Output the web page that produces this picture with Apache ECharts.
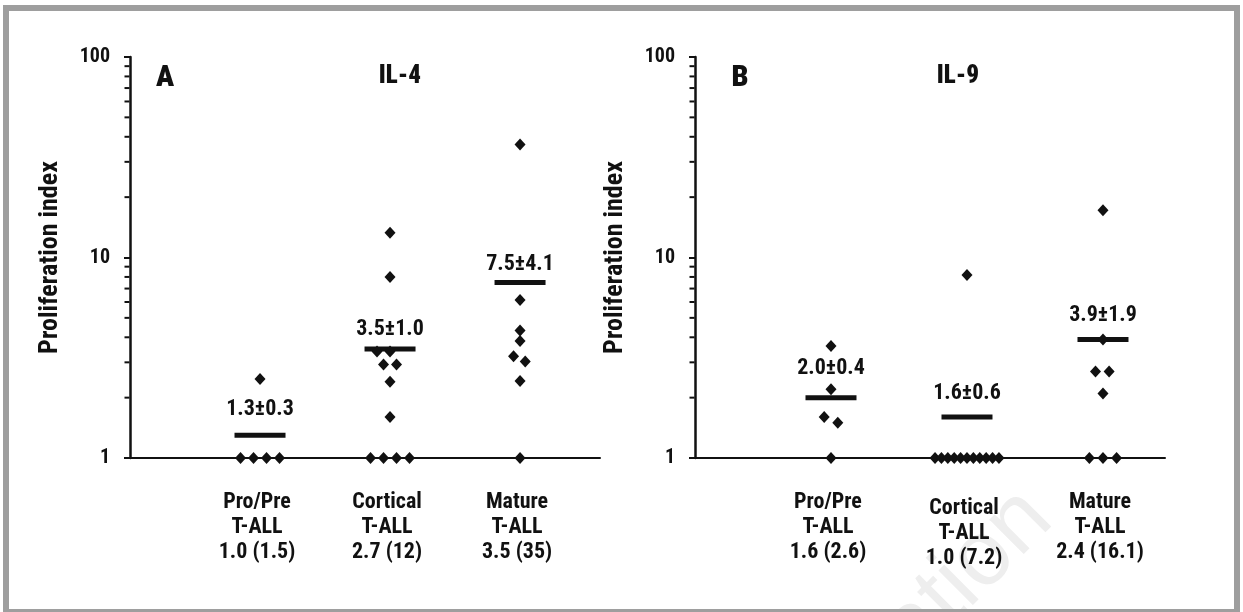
<!DOCTYPE html>
<html><head><meta charset="utf-8">
<script src="https://cdn.jsdelivr.net/npm/echarts@6/dist/echarts.min.js"></script>
<style>html,body{margin:0;padding:0;background:#fff}#c{width:1243px;height:612px}</style>
</head><body><div id="c"></div><script>
// ---- data ----
const categories = ['Pro/Pre', 'Cortical', 'Mature'];
const subtype = 'T-ALL';
const medianA = ['1.0 (1.5)', '2.7 (12)', '3.5 (35)'];
const medianB = ['1.6 (2.6)', '1.0 (7.2)', '2.4 (16.1)'];
const yTickValues = [1, 10, 100];
const minorTickValues = [2, 3, 4, 5, 6, 7, 8, 9, 20, 30, 40, 50, 60, 70, 80, 90];

// Panel A: IL-4
const il4ProPre = [2.48, 1, 1, 1, 1];
const il4ProPreJitter = [0, -0.15, -0.05, 0.05, 0.15];
const il4Cortical = [13.3, 8.0, 3.4, 3.4, 2.93, 2.93, 2.4, 1.6, 1, 1, 1, 1];
const il4CorticalJitter = [0, 0, -0.1, 0, -0.05, 0.05, 0, 0, -0.15, -0.05, 0.05, 0.15];
const il4Mature = [36.6, 6.14, 4.33, 3.83, 3.22, 3.03, 2.42, 1];
const il4MatureJitter = [0, 0, 0, 0, -0.05, 0.04, 0, 0];
const il4Mean = [1.3, 3.5, 7.5];
const il4MeanText = ['1.3±0.3', '3.5±1.0', '7.5±4.1'];

// Panel B: IL-9
const il9ProPre = [3.62, 2.2, 1.6, 1.5, 1];
const il9ProPreJitter = [0, 0, -0.05, 0.05, 0];
const il9Cortical = [8.19, 1, 1, 1, 1, 1, 1, 1, 1, 1, 1, 1];
const il9CorticalJitter = [0, -0.235, -0.188, -0.141, -0.094, -0.047, 0, 0.047, 0.094, 0.141, 0.188, 0.235];
const il9Mature = [17.2, 3.9, 2.7, 2.7, 2.1, 1, 1, 1];
const il9MatureJitter = [0, 0, -0.055, 0.045, 0, -0.1, 0, 0.1];
const il9Mean = [2.0, 1.6, 3.9];
const il9MeanText = ['2.0±0.4', '1.6±0.6', '3.9±1.9'];

// ---- styling ----
const FONT = "'Roboto Condensed','Liberation Sans',sans-serif";
const WEIGHT = 'bold';
const INK = '#111';

function points(groups) {
  const out = [];
  groups.forEach((g, i) => g[0].forEach((v, j) => out.push([i + 1 + g[1][j], v])));
  return out;
}
function catFormatter(medians, lowIdx) {
  return function (v) {
    const r = Math.round(v);
    if (Math.abs(v - r) > 1e-6 || r < 1 || r > 3) return '';
    const i = r - 1;
    const txt = categories[i] + '\n' + subtype + '\n' + medians[i];
    return i === lowIdx ? '{sp|\u200b}\n' + txt : txt;
  };
}
function xAxisCfg(grid, max, medians, lowIdx) {
  return {
    type: 'value', gridIndex: grid, min: 0, max: max, interval: 1,
    splitLine: { show: false }, axisTick: { show: false },
    axisLine: { show: true, onZero: false, lineStyle: { color: INK, width: 2 } },
    axisLabel: {
      formatter: catFormatter(medians, lowIdx), margin: 32, color: INK,
      fontFamily: FONT, fontWeight: WEIGHT, fontSize: 22, lineHeight: 25,
      padding: [0, 6, 0, 0],
      rich: { sp: { fontSize: 4, lineHeight: 6, height: 6 } },
      showMinLabel: false, showMaxLabel: false
    }
  };
}
function yAxisCfg(grid) {
  return {
    type: 'log', logBase: 10, gridIndex: grid, min: 1, max: 100,
    name: 'Proliferation index', nameLocation: 'middle', nameGap: 67,
    nameTextStyle: { fontFamily: FONT, fontWeight: WEIGHT, fontSize: 26, color: INK },
    splitLine: { show: false },
    axisLine: { show: true, lineStyle: { color: INK, width: 2.5 } },
    axisTick: { show: true, length: 6, lineStyle: { color: INK, width: 2 } },
    axisLabel: { margin: 20, color: INK, fontFamily: FONT, fontWeight: WEIGHT, fontSize: 20,
      formatter: v => (yTickValues.indexOf(Math.round(v)) >= 0 ? String(Math.round(v)) : '') }
  };
}
function dotSeries(idx, data) {
  return { type: 'scatter', xAxisIndex: idx, yAxisIndex: idx, data: data, symbol: 'diamond',
    symbolSize: [11, 12], itemStyle: { color: INK, opacity: 1 }, silent: true, z: 4 };
}
function meanSeries(idx, means, texts, gaps) {
  return { type: 'scatter', xAxisIndex: idx, yAxisIndex: idx, symbol: 'rect', symbolSize: [51, 5],
    itemStyle: { color: INK, opacity: 1 }, silent: true, z: 3,
    data: means.map((m, i) => ({ value: [i + 1, m], label: { distance: gaps[i] } })),
    label: { show: true, position: 'top', formatter: p => texts[p.dataIndex], color: INK, opacity: 1,
      fontFamily: FONT, fontWeight: WEIGHT, fontSize: 22, textBorderColor: '#fff', textBorderWidth: 2 } };
}
function minorTickSeries(idx) {
  return { type: 'scatter', xAxisIndex: idx, yAxisIndex: idx, silent: true, clip: false,
    data: minorTickValues.map(v => [0, v]), symbol: 'rect', symbolSize: [5, 2], symbolOffset: [-3, 0],
    itemStyle: { color: INK, opacity: 1 }, z: 2 };
}
function headText(x, y, text, size) {
  return { type: 'text', x: x, y: y, z: 10, style: { text: text, fill: INK, font: '900 ' + size + 'px ' + FONT,
    textAlign: 'center', textVerticalAlign: 'middle' } };
}

const chart = echarts.init(document.getElementById('c'), null, { renderer: 'canvas' });
chart.setOption({
  backgroundColor: '#fff',
  animation: false,
  grid: [
    { left: 130, top: 57, width: 470, bottom: 154 },
    { left: 695, top: 57, right: 78, bottom: 154 }
  ],
  xAxis: [xAxisCfg(0, 3.615, medianA, -1), xAxisCfg(1, 3.456, medianB, 1)],
  yAxis: [yAxisCfg(0), yAxisCfg(1)],
  series: [
    dotSeries(0, points([[il4ProPre, il4ProPreJitter], [il4Cortical, il4CorticalJitter], [il4Mature, il4MatureJitter]])),
    meanSeries(0, il4Mean, il4MeanText, [12, 6, 5]),
    minorTickSeries(0),
    dotSeries(1, points([[il9ProPre, il9ProPreJitter], [il9Cortical, il9CorticalJitter], [il9Mature, il9MatureJitter]])),
    meanSeries(1, il9Mean, il9MeanText, [16, 10, 10]),
    minorTickSeries(1)
  ],
  graphic: [
    { type: 'text', x: 1070, y: 537, rotation: Math.PI / 4, z: -100, silent: true,
      style: { text: '©Ferrata Storti Foundation', fill: '#eeeeee', font: '92px ' + "'Liberation Sans',sans-serif",
        textAlign: 'right', textVerticalAlign: 'bottom' } },
    { type: 'rect', z: 100, silent: true, shape: { x: 6, y: 8, width: 1231, height: 604 },
      style: { fill: 'none', stroke: '#9e9e9e', lineWidth: 6 } },
    headText(165, 78, 'A', 30),
    headText(400, 77, 'IL-4', 25),
    headText(740, 78, 'B', 30),
    headText(958, 77, 'IL-9', 25)
  ]
});
</script></body></html>
